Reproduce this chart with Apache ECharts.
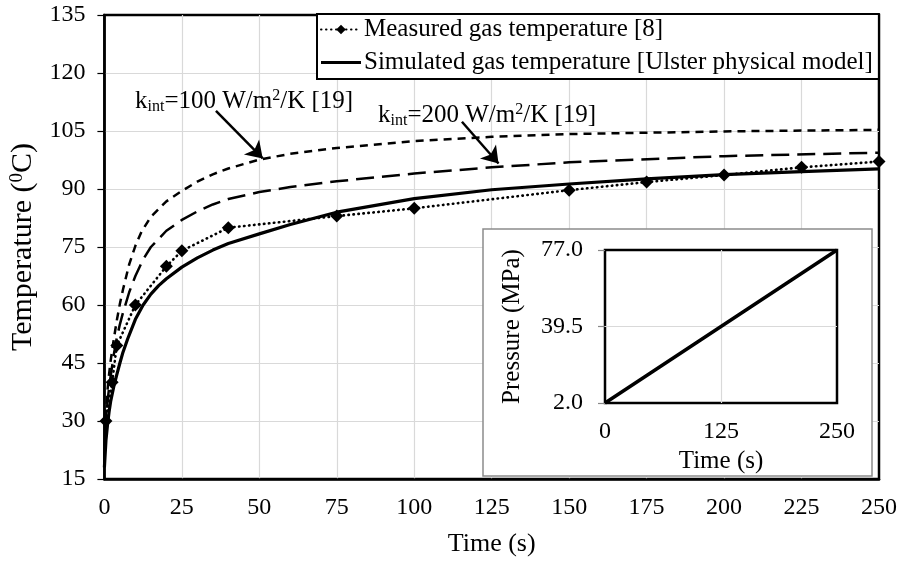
<!DOCTYPE html>
<html><head><meta charset="utf-8">
<script src="https://cdn.jsdelivr.net/npm/echarts@6/dist/echarts.min.js"></script>
<style>html,body{margin:0;padding:0;background:#fff}#c{width:901px;height:562px}</style>
</head><body><div id="c"></div>
<script>
// ---- data ----
const xTicks = [0, 25, 50, 75, 100, 125, 150, 175, 200, 225, 250];
const yTicks = [15, 30, 45, 60, 75, 90, 105, 120, 135];
const measuredT = [0.5, 2.5, 4, 10, 20, 25, 40, 75, 100, 150, 175, 200, 225, 250];
const measuredV = [30, 40, 49.5, 60, 70, 74, 80, 83, 85, 89.7, 91.8, 93.6, 95.6, 97.1];
const simT = [0, 0.5, 1, 1.5, 2, 3, 4, 5, 6, 7.5, 10, 12.5, 15, 17.5, 20, 25, 30, 35, 40, 50, 60, 75, 100, 125, 150, 175, 200, 225, 250];
const simV = [18, 25, 29, 32.3, 35, 38.8, 42, 45, 47.8, 51.2, 56.3, 60, 62.8, 65, 66.8, 69.8, 72.2, 74.2, 75.9, 78.4, 80.8, 84, 87.5, 89.8, 91.3, 92.6, 93.7, 94.5, 95.2];
const k100T = [0, 0.5, 1, 1.5, 2, 3, 4, 5, 6, 8, 10, 12, 15, 20, 25, 30, 35, 40, 50, 60, 75, 100, 125, 150, 200, 250];
const k100V = [20, 32, 38, 42, 45.5, 51, 56, 60.3, 64, 70.5, 75.3, 79, 82.8, 86.8, 89.5, 91.9, 93.8, 95.3, 97.6, 99.1, 100.6, 102.4, 103.5, 104.2, 104.9, 105.3];
const k200T = [0, 0.5, 1, 1.5, 2, 3, 4, 5, 6, 8, 10, 12.5, 15, 20, 25, 30, 35, 40, 50, 60, 75, 100, 125, 150, 200, 250];
const k200V = [20, 29, 35, 38.5, 41.5, 47, 51.5, 55, 58, 63.3, 67.5, 71.8, 75, 79.2, 82, 84.2, 86, 87.4, 89.2, 90.5, 92, 94, 95.6, 96.9, 98.5, 99.4];
const pressT = [0, 125, 250];
const pressV = [2, 39.5, 77];
const insetXTicks = [0, 125, 250];
const insetYTicks = [2.0, 39.5, 77.0];
const legendNames = ['Measured gas temperature [8]', 'Simulated gas temperature [Ulster physical model]'];
const arrow100 = [[36, 110.2], [51.1, 97.9]];
const arrow200 = [[115.4, 107.4], [127.2, 96.6]];

const zip = (a, b) => a.map((v, i) => [v, b[i]]);
const FONT = 'Liberation Serif';
const GRID_C = '#d9d9d9';

const chart = echarts.init(document.getElementById('c'), null, {renderer: 'canvas'});
const kLabel = (val) => '{a|k}{b|int}{a|=' + val + ' W/m}{c|2}{a|/K [19]}';
const richK = {
  a: {fontSize: 25, fontFamily: FONT, fill: '#000', color: '#000'},
  b: {fontSize: 16, fontFamily: FONT, fill: '#000', color: '#000', padding: [12, 0, 0, 0]},
  c: {fontSize: 16, fontFamily: FONT, fill: '#000', color: '#000', padding: [0, 0, 10, 0]}
};

const option = {
  animation: false,
  backgroundColor: '#fff',
  textStyle: {fontFamily: FONT, color: '#000'},
  grid: [
    {left: 101, top: 15, width: 778, height: 469, show: true, borderColor: '#000', borderWidth: 2.5, backgroundColor: 'transparent', containLabel: false},
    {left: 605, top: 250, width: 232, height: 153, show: true, borderColor: '#000', borderWidth: 2.5, backgroundColor: '#fff', z: 10, containLabel: false}
  ],
  legend: {
    data: [
      {name: legendNames[0]},
      {name: legendNames[1], icon: 'path://M0,0 L40,0 L40,3.2 L0,3.2 Z', itemStyle: {color: '#000'}}
    ],
    orient: 'vertical',
    left: 317, top: 14,
    itemGap: 8,
    itemWidth: 40, itemHeight: 12,
    padding: [3, 6, 4, 3],
    borderColor: '#000', borderWidth: 2,
    backgroundColor: '#fff',
    textStyle: {fontSize: 25, fontFamily: FONT, color: '#000', padding: [0, 0, 0, -2]}
  },
  xAxis: [
    {type: 'value', gridIndex: 0, min: xTicks[0], max: xTicks[xTicks.length - 1], interval: 25,
     axisLine: {show: true, lineStyle: {color: '#000', width: 2.5}},
     axisTick: {show: false},
     axisLabel: {fontSize: 24, fontFamily: FONT, color: '#000', margin: 17},
     splitLine: {show: true, showMinLine: false, showMaxLine: false, lineStyle: {color: GRID_C, width: 1.2}},
     name: 'Time (s)', nameLocation: 'middle', nameGap: 52,
     nameTextStyle: {fontSize: 26, fontFamily: FONT, color: '#000'}},
    {type: 'value', gridIndex: 1, min: insetXTicks[0], max: insetXTicks[2], interval: 125, z: 10,
     axisLine: {show: false}, axisTick: {show: false},
     axisLabel: {fontSize: 24, fontFamily: FONT, color: '#000', margin: 17},
     splitLine: {show: true, showMinLine: false, showMaxLine: false, lineStyle: {color: GRID_C, width: 1.2}},
     name: 'Time (s)', nameLocation: 'middle', nameGap: 46,
     nameTextStyle: {fontSize: 25, fontFamily: FONT, color: '#000'}}
  ],
  yAxis: [
    {type: 'value', gridIndex: 0, min: yTicks[0], max: yTicks[yTicks.length - 1], interval: 15,
     axisLine: {show: true, lineStyle: {color: '#000', width: 2.5}},
     axisTick: {show: true, length: 7, lineStyle: {color: '#000', width: 1.2}},
     axisLabel: {fontSize: 24, fontFamily: FONT, color: '#000', margin: 19},
     splitLine: {show: true, showMinLine: false, showMaxLine: false, lineStyle: {color: GRID_C, width: 1.2}},
     name: '{a|Temperature (}{s|0}{a|C)}', nameLocation: 'middle', nameGap: 64,
     nameTextStyle: {fontFamily: FONT, color: '#000', rich: {
       a: {fontSize: 30, fontFamily: FONT, color: '#000'},
       s: {fontSize: 19, fontFamily: FONT, color: '#000', padding: [0, 0, 12, 0]}}}},
    {type: 'value', gridIndex: 1, min: insetYTicks[0], max: insetYTicks[2], interval: 37.5, z: 10,
     axisLine: {show: false},
     axisTick: {show: true, length: 7, lineStyle: {color: '#888', width: 1.2}},
     axisLabel: {fontSize: 24, fontFamily: FONT, color: '#000', margin: 22, formatter: v => v.toFixed(1)},
     splitLine: {show: true, showMinLine: false, showMaxLine: false, lineStyle: {color: GRID_C, width: 1.2}},
     name: 'Pressure (MPa)', nameLocation: 'middle', nameGap: 80,
     nameTextStyle: {fontSize: 25, fontFamily: FONT, color: '#000'}}
  ],
  graphic: [
    {type: 'rect', z: 5, silent: true, shape: {x: 483, y: 229, width: 389, height: 247},
     style: {fill: '#fff', stroke: '#8c8c8c', lineWidth: 1.5}},
    {type: 'text', z: 6, x: 135, y: 101, silent: true,
     style: {text: kLabel(100), rich: richK, verticalAlign: 'middle', align: 'left', fontSize: 25, fontFamily: FONT, fill: '#000'}},
    {type: 'text', z: 6, x: 378, y: 115, silent: true,
     style: {text: kLabel(200), rich: richK, verticalAlign: 'middle', align: 'left', fontSize: 25, fontFamily: FONT, fill: '#000'}}
  ],
  series: [
    {name: legendNames[0], type: 'line', xAxisIndex: 0, yAxisIndex: 0, data: zip(measuredT, measuredV),
     symbol: 'diamond', symbolSize: 13, showSymbol: true,
     itemStyle: {color: '#000'},
     lineStyle: {color: '#000', width: 2.6, type: [0.5, 4.5], cap: 'round'}, z: 3},
    {name: legendNames[1], type: 'line', xAxisIndex: 0, yAxisIndex: 0, data: zip(simT, simV),
     showSymbol: false, symbol: 'none', smooth: false,
     itemStyle: {color: '#000'},
     lineStyle: {color: '#000', width: 3.2, join: 'round'}, z: 3},
    {name: 'k100', type: 'line', xAxisIndex: 0, yAxisIndex: 0, data: zip(k100T, k100V),
     showSymbol: false, symbol: 'none', smooth: false,
     lineStyle: {color: '#000', width: 2.5, type: [8, 6]}, z: 3,
     markLine: {silent: true, symbol: ['none', 'arrow'], symbolSize: 16, label: {show: false},
       lineStyle: {color: '#000', width: 2.5, type: 'solid'},
       data: [[{coord: arrow100[0]}, {coord: arrow100[1]}]]}},
    {name: 'k200', type: 'line', xAxisIndex: 0, yAxisIndex: 0, data: zip(k200T, k200V),
     showSymbol: false, symbol: 'none', smooth: false,
     lineStyle: {color: '#000', width: 2.5, type: [18, 8]}, z: 3,
     markLine: {silent: true, symbol: ['none', 'arrow'], symbolSize: 16, label: {show: false},
       lineStyle: {color: '#000', width: 2.5, type: 'solid'},
       data: [[{coord: arrow200[0]}, {coord: arrow200[1]}]]}},
    {name: 'Pressure', type: 'line', xAxisIndex: 1, yAxisIndex: 1, data: zip(pressT, pressV),
     showSymbol: false, symbol: 'none', lineStyle: {color: '#000', width: 3.5}, z: 11}
  ]
};
chart.setOption(option);
</script>
</body></html>
